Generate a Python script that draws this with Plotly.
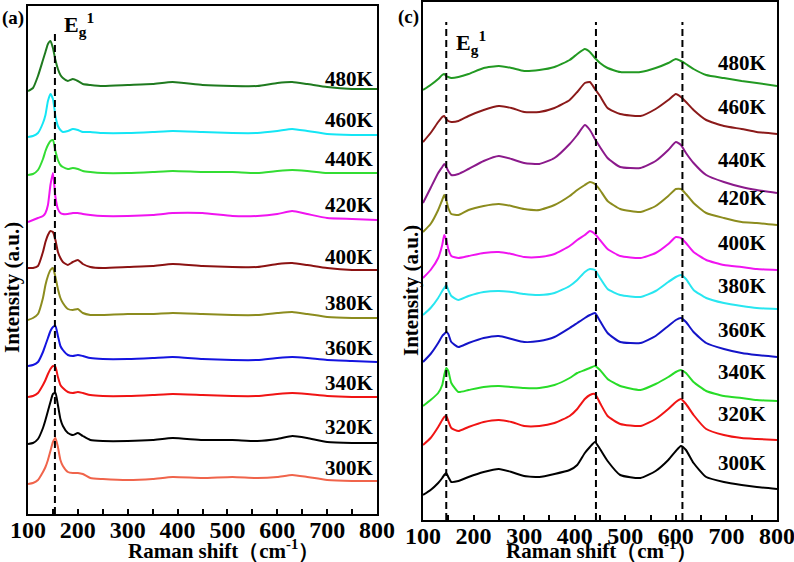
import plotly.graph_objects as go

# ---------------- data: panel (a) ----------------
A_X = [100, 110, 120, 130, 135, 140, 145, 150, 155, 160, 165, 170, 180, 190, 200,
       210, 225, 250, 300, 350, 390, 450, 510, 560, 600, 630, 660, 700, 750, 800]
a_480 = [424, 427, 439, 455, 463, 471, 474, 467, 455, 446, 440, 437, 434, 436, 434, 431, 430, 429, 430, 431, 433, 430, 429, 429, 432, 433, 431, 428, 426, 426]
a_460 = [378, 379, 382, 392, 400, 414, 421, 416, 399, 389, 385, 383, 384, 386, 385, 383, 383, 382, 382, 383, 384, 383, 382, 382, 384, 386, 384, 381, 380, 380]
a_440 = [340, 341, 345, 356, 364, 370, 374, 375, 364, 355, 350, 348, 346, 347, 346, 344, 343, 342, 342, 343, 344, 343, 343, 342, 344, 345, 344, 342, 342, 342]
a_420 = [293, 295, 297, 299, 302, 310, 330, 342, 318, 306, 302, 301, 301, 302, 302, 301, 300, 299, 299, 300, 302, 302, 299, 299, 301, 304, 301, 297, 296, 295]
a_400 = [247, 247, 249, 263, 273, 280, 284, 283, 275, 263, 257, 253, 250, 253, 255, 251, 248, 247, 248, 249, 251, 249, 248, 248, 251, 252, 250, 247, 245, 245]
a_380 = [195, 197, 201, 217, 230, 239, 245, 247, 238, 226, 217, 212, 206, 205, 206, 202, 200, 200, 201, 201, 202, 201, 200, 200, 202, 203, 201, 198, 197, 197]
a_360 = [149, 150, 153, 163, 170, 177, 184, 188, 189, 179, 169, 165, 160, 159, 160, 159, 157, 156, 156, 157, 158, 156, 155, 155, 157, 158, 157, 155, 154, 153]
a_340 = [118, 119, 122, 130, 135, 141, 146, 149, 148, 138, 130, 127, 123, 122, 123, 122, 120, 119, 119, 120, 121, 120, 119, 119, 121, 122, 121, 119, 118, 118]
a_320 = [71, 72, 76, 87, 95, 104, 113, 121, 122, 110, 96, 89, 82, 80, 82, 79, 75, 74, 74, 75, 77, 75, 75, 74, 76, 79, 77, 73, 72, 72]
a_300 = [31, 32, 35, 43, 48, 55, 64, 73, 77, 68, 55, 49, 43, 42, 42, 41, 37, 36, 35, 36, 38, 37, 38, 37, 38, 40, 38, 35, 34, 34]

A_NAMES = ["480K", "460K", "440K", "420K", "400K", "380K", "360K", "340K", "320K", "300K"]
A_SERIES = [a_480, a_460, a_440, a_420, a_400, a_380, a_360, a_340, a_320, a_300]
A_COLORS = ["#1F7A1F", "#14E6F5", "#33DD33", "#F014F0", "#8B1212",
            "#8C8C1E", "#1414E0", "#F01414", "#000000", "#F0644B"]
A_LABEL_Y = [436, 395, 356, 310, 258, 212, 167, 132, 88, 47]
A_DASH = [154]
A_DASH_TOP = 485

# ---------------- data: panel (c) ----------------
C_X = [100, 115, 130, 138, 142, 146, 150, 156, 170, 190, 220, 250, 275, 300, 330, 360, 390, 405,
       420, 430, 440, 450, 465, 490, 530, 560, 585, 600, 610, 620, 635, 660, 695, 730, 760, 800]
c_480 = [430, 435, 441, 445, 446, 444, 443, 442, 443, 446, 452, 454, 452, 449, 450, 453, 460, 466, 471, 468, 462, 457, 452, 448, 448, 452, 457, 461, 459, 456, 451, 445, 442, 439, 437, 434]
c_460 = [378, 387, 398, 403, 404, 401, 399, 398, 399, 404, 410, 414, 412, 408, 408, 412, 420, 428, 437, 438, 431, 424, 412, 406, 404, 411, 420, 426, 423, 418, 410, 400, 394, 391, 388, 386]
c_440 = [317, 332, 347, 353, 356, 353, 349, 345, 346, 351, 359, 364, 361, 357, 356, 362, 376, 385, 395, 390, 381, 373, 362, 353, 352, 359, 370, 378, 375, 367, 357, 345, 338, 333, 330, 327]
c_420 = [288, 296, 310, 320, 325, 320, 312, 306, 305, 310, 314, 316, 314, 311, 310, 315, 324, 330, 335, 338, 336, 330, 319, 311, 308, 314, 324, 331, 331, 326, 317, 307, 302, 298, 297, 295]
c_400 = [242, 250, 262, 275, 285, 280, 271, 264, 262, 264, 267, 268, 266, 263, 263, 266, 274, 280, 285, 289, 286, 280, 271, 264, 262, 267, 276, 283, 282, 277, 268, 260, 255, 253, 251, 250]
c_380 = [205, 212, 222, 229, 232, 235, 230, 224, 220, 224, 228, 229, 228, 226, 225, 227, 234, 240, 248, 251, 250, 242, 231, 225, 223, 229, 238, 243, 245, 241, 230, 222, 217, 214, 212, 211]
c_360 = [158, 166, 177, 184, 186, 188, 186, 178, 173, 177, 182, 184, 181, 178, 179, 183, 192, 197, 202, 205, 207, 199, 187, 178, 177, 184, 194, 200, 202, 198, 188, 177, 171, 167, 165, 163]
c_340 = [114, 120, 127, 135, 145, 152, 149, 137, 128, 130, 133, 134, 133, 132, 132, 135, 142, 147, 150, 152, 154, 150, 141, 134, 130, 136, 143, 148, 150, 147, 138, 129, 124, 122, 120, 119]
c_320 = [75, 82, 93, 100, 103, 104, 99, 92, 89, 93, 98, 100, 98, 94, 94, 97, 104, 111, 121, 125, 126, 117, 104, 96, 94, 101, 111, 118, 121, 116, 105, 91, 85, 82, 81, 80]
c_300 = [25, 30, 37, 42, 45, 47, 43, 38, 39, 43, 48, 51, 48, 44, 43, 46, 50, 55, 67, 73, 78, 71, 59, 45, 42, 49, 60, 69, 74, 70, 57, 43, 38, 35, 33, 31]

C_NAMES = ["480K", "460K", "440K", "420K", "400K", "380K", "360K", "340K", "320K", "300K"]
C_SERIES = [c_480, c_460, c_440, c_420, c_400, c_380, c_360, c_340, c_320, c_300]
C_COLORS = ["#229922", "#8B1A1A", "#8B1A8B", "#8C8C1E", "#F014F0",
            "#28E6F0", "#1414C8", "#28DC28", "#F01414", "#000000"]
C_LABEL_Y = [457, 413, 360, 322, 277, 234, 190, 148, 106, 57]
C_DASH = [146, 442, 613]
C_DASH_TOP = 498

TICKS = [100, 200, 300, 400, 500, 600, 700, 800]

W, H = 794, 562
SERIF = "Liberation Serif, Times New Roman, serif"

fig = go.Figure()

for name, ys, col in zip(A_NAMES, A_SERIES, A_COLORS):
    fig.add_trace(go.Scatter(x=A_X, y=ys, mode="lines", name=name,
                             line=dict(color=col, width=2, shape="spline", smoothing=0.5),
                             xaxis="x", yaxis="y", hoverinfo="skip"))
for name, ys, col in zip(C_NAMES, C_SERIES, C_COLORS):
    fig.add_trace(go.Scatter(x=C_X, y=ys, mode="lines", name=name,
                             line=dict(color=col, width=2, shape="spline", smoothing=0.5),
                             xaxis="x2", yaxis="y2", hoverinfo="skip"))

def xax(domain, anchor):
    return dict(domain=domain, anchor=anchor, range=[100, 800], tickmode="array",
                tickvals=TICKS, ticktext=[str(t) for t in TICKS], automargin=False,
                showline=True, linecolor="black", linewidth=2, mirror=True,
                ticks="inside", ticklen=5, tickwidth=2, tickcolor="black",
                ticklabelstandoff=-7, ticklabeloverflow="allow",
                minor=dict(dtick=50, tick0=100, ticks="inside", ticklen=5, tickwidth=2, tickcolor="black"),
                showgrid=False, zeroline=False,
                tickfont=dict(family=SERIF, size=24, color="black", weight="bold"))

def yax(domain, anchor, rng):
    return dict(domain=domain, anchor=anchor, range=rng, showline=True, linecolor="black",
                linewidth=2, mirror=True, ticks="", showticklabels=False, automargin=False,
                showgrid=False, zeroline=False)

fig.update_layout(
    width=W, height=H, margin=dict(l=0, r=0, t=0, b=0, autoexpand=False),
    paper_bgcolor="white", plot_bgcolor="white", showlegend=False,
    xaxis=xax([28 / W, 377 / W], "y"),
    yaxis=yax([48 / H, 556 / H], "x", [1, 509]),
    xaxis2=xax([423 / W, 777 / W], "y2"),
    yaxis2=yax([42 / H, 560 / H], "x2", [0, 518]),
)

shapes = []
for dx in A_DASH:
    shapes.append(dict(type="line", xref="x", yref="y", x0=dx, x1=dx, y0=1, y1=A_DASH_TOP,
                       line=dict(color="black", width=2, dash="7px,4px")))
for dx in C_DASH:
    shapes.append(dict(type="line", xref="x2", yref="y2", x0=dx, x1=dx, y0=0, y1=C_DASH_TOP,
                       line=dict(color="black", width=2, dash="7px,4px")))
fig.update_layout(shapes=shapes)

def bold(size):
    return dict(family=SERIF, size=size, color="black", weight="bold")

ann = []
for name, ly in zip(A_NAMES, A_LABEL_Y):
    ann.append(dict(x=797, y=ly, xref="x", yref="y", text=name, showarrow=False,
                    xanchor="right", yanchor="middle", font=bold(21)))
for name, ly in zip(C_NAMES, C_LABEL_Y):
    ann.append(dict(x=785, y=ly, xref="x2", yref="y2", text=name, showarrow=False,
                    xanchor="right", yanchor="middle", font=bold(21)))

# Eg1 labels
ann.append(dict(x=168, y=490, xref="x", yref="y", text="E<sub>g</sub><sup>1</sup>",
                showarrow=False, xanchor="left", yanchor="middle", font=bold(22)))
ann.append(dict(x=161, y=477, xref="x2", yref="y2", text="E<sub>g</sub><sup>1</sup>",
                showarrow=False, xanchor="left", yanchor="middle", font=bold(22)))

# panel labels
ann.append(dict(x=13 / W, y=1 - 18 / H, xref="paper", yref="paper", text="(a)",
                showarrow=False, xanchor="center", yanchor="middle", font=bold(19)))
ann.append(dict(x=408 / W, y=1 - 17 / H, xref="paper", yref="paper", text="(c)",
                showarrow=False, xanchor="center", yanchor="middle", font=bold(19)))

# axis titles
for cx in (223, 601):
    ann.append(dict(x=cx / W, y=1 - 549 / H, xref="paper", yref="paper",
                    text="Raman shift（cm<sup>-1</sup>）", showarrow=False,
                    xanchor="center", yanchor="middle", font=bold(21)))
for cx, cy in ((12, 288), (411, 291)):
    ann.append(dict(x=cx / W, y=1 - cy / H, xref="paper", yref="paper",
                    text="Intensity (a.u.)", textangle=-90, showarrow=False,
                    xanchor="center", yanchor="middle", font=bold(21)))

fig.update_layout(annotations=ann)
fig.write_html("out.html", config={"displayModeBar": False},
               post_script="document.body.style.margin='0';document.body.style.padding='0';document.body.style.overflow='hidden';")
